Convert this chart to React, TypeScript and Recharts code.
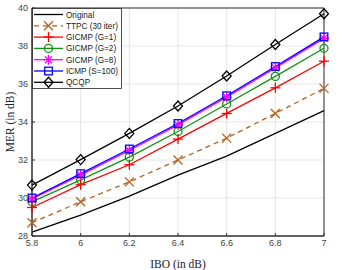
import React from "react";
import {
  LineChart,
  Line,
  XAxis,
  YAxis,
  CartesianGrid,
  ReferenceArea,
} from "recharts";

const ibo = [5.8, 6.0, 6.2, 6.4, 6.6, 6.8, 7.0];
const original = [28.2, 29.1, 30.1, 31.2, 32.2, 33.4, 34.6];
const ttpc = [28.7, 29.8, 30.85, 32.0, 33.15, 34.45, 35.77];
const gicmp1 = [29.5, 30.7, 31.75, 33.1, 34.45, 35.8, 37.2];
const gicmp2 = [29.8, 30.95, 32.15, 33.5, 34.95, 36.4, 37.88];
const gicmp8 = [29.95, 31.2, 32.5, 33.85, 35.3, 36.85, 38.4];
const icmp = [30.0, 31.28, 32.58, 33.92, 35.38, 36.92, 38.48];
const qcqp = [30.68, 32.02, 33.4, 34.84, 36.42, 38.08, 39.7];

const xTicks = [5.8, 6, 6.2, 6.4, 6.6, 6.8, 7];
const yTicks = [28, 30, 32, 34, 36, 38, 40];

const data = ibo.map((x, i) => ({
  x,
  original: original[i],
  ttpc: ttpc[i],
  g1: gicmp1[i],
  g2: gicmp2[i],
  g8: gicmp8[i],
  icmp: icmp[i],
  qcqp: qcqp[i],
}));

type Marker = "none" | "x" | "plus" | "circle" | "star" | "square" | "diamond";

const series: { key: string; name: string; color: string; marker: Marker; dash?: string }[] = [
  { key: "original", name: "Original", color: "#000000", marker: "none" },
  { key: "ttpc", name: "TTPC (30 iter)", color: "#b5601e", marker: "x", dash: "5 4" },
  { key: "g1", name: "GICMP (G=1)", color: "#ff0000", marker: "plus" },
  { key: "g2", name: "GICMP (G=2)", color: "#119311", marker: "circle" },
  { key: "g8", name: "GICMP (G=8)", color: "#ff00ff", marker: "star" },
  { key: "icmp", name: "ICMP (S=100)", color: "#0000ff", marker: "square" },
  { key: "qcqp", name: "QCQP", color: "#000000", marker: "diamond" },
];

function drawMarker(m: Marker, cx: number, cy: number, c: string, k?: string) {
  const sw = 1.3;
  switch (m) {
    case "x":
      return (
        <g key={k} stroke={c} strokeWidth={sw}>
          <line x1={cx - 4.5} y1={cy - 4.5} x2={cx + 4.5} y2={cy + 4.5} />
          <line x1={cx - 4.5} y1={cy + 4.5} x2={cx + 4.5} y2={cy - 4.5} />
        </g>
      );
    case "plus":
      return (
        <g key={k} stroke={c} strokeWidth={sw}>
          <line x1={cx - 5} y1={cy} x2={cx + 5} y2={cy} />
          <line x1={cx} y1={cy - 5} x2={cx} y2={cy + 5} />
        </g>
      );
    case "circle":
      return <circle key={k} cx={cx} cy={cy} r={4} fill="none" stroke={c} strokeWidth={sw} />;
    case "star":
      return (
        <g key={k} stroke={c} strokeWidth={sw}>
          <line x1={cx - 5} y1={cy} x2={cx + 5} y2={cy} />
          <line x1={cx} y1={cy - 5} x2={cx} y2={cy + 5} />
          <line x1={cx - 3.5} y1={cy - 3.5} x2={cx + 3.5} y2={cy + 3.5} />
          <line x1={cx - 3.5} y1={cy + 3.5} x2={cx + 3.5} y2={cy - 3.5} />
        </g>
      );
    case "square":
      return <rect key={k} x={cx - 3.8} y={cy - 3.8} width={7.6} height={7.6} fill="none" stroke={c} strokeWidth={sw} />;
    case "diamond":
      return (
        <polygon
          key={k}
          points={`${cx},${cy - 5} ${cx + 4.5},${cy} ${cx},${cy + 5} ${cx - 4.5},${cy}`}
          fill="none"
          stroke={c}
          strokeWidth={sw}
        />
      );
    default:
      return <g key={k} />;
  }
}

function makeDot(m: Marker, c: string) {
  return (props: any) => drawMarker(m, props.cx, props.cy, c, `${m}-${props.index}`);
}

function LegendBox() {
  const rowH = 11.3;
  return (
    <svg width={90} height={81} style={{ position: "absolute", left: 32, top: 8, display: "block" }}>
      <rect x={0.5} y={0.5} width={89} height={80} fill="#ffffff" stroke="#222" strokeWidth={0.8} />
      {series.map((s, i) => {
        const y = 6.5 + i * rowH;
        return (
          <g key={s.key}>
            <line x1={2} y1={y} x2={31} y2={y} stroke={s.color} strokeWidth={1.3} strokeDasharray={s.dash} />
            {drawMarker(s.marker, 16.5, y, s.color)}
            <text x={34} y={y + 3} fontSize={8.2} fill="#222" fontFamily="Liberation Sans, Arial, sans-serif">
              {s.name}
            </text>
          </g>
        );
      })}
    </svg>
  );
}

const tickStyle = { fill: "#444", fontSize: 9, fontFamily: "Liberation Sans, Arial, sans-serif" };

function YLabel(props: any) {
  const vb = props.viewBox || {};
  const cy = (vb.y ?? 8) + (vb.height ?? 228) / 2;
  return (
    <text
      x={10}
      y={cy}
      transform={`rotate(-90, 10, ${cy})`}
      textAnchor="middle"
      dominantBaseline="central"
      fontFamily="Liberation Serif, Times New Roman, serif"
      fontSize={11.5}
      fill="#222"
    >
      MER (in dB)
    </text>
  );
}

export default function App() {
  return (
    <div style={{ position: "absolute", left: 0, top: 0, width: 349, height: 270, background: "#fff" }}>
      <LineChart width={349} height={270} data={data} margin={{ top: 8, right: 25, bottom: 14, left: 8 }}>
        <CartesianGrid stroke="#dedede" strokeWidth={0.8} />
        <XAxis
          dataKey="x"
          type="number"
          domain={[5.8, 7]}
          ticks={xTicks}
          tick={tickStyle}
          tickLine={{ stroke: "#333" }}
          tickSize={-3}
          tickMargin={7}
          axisLine={{ stroke: "#333" }}
          height={20}
          label={{
            value: "IBO (in dB)",
            position: "insideBottom",
            offset: -12,
            style: { fontFamily: "Liberation Serif, Times New Roman, serif", fontSize: 11.5, fill: "#222" },
          }}
        />
        <YAxis
          type="number"
          domain={[28, 40]}
          ticks={yTicks}
          tick={tickStyle}
          tickLine={{ stroke: "#333" }}
          tickSize={-3}
          tickMargin={7}
          axisLine={{ stroke: "#333" }}
          width={24}
          label={<YLabel />}
        />
        <ReferenceArea x1={5.8} x2={7} y1={28} y2={40} fill="none" stroke="#333" strokeWidth={1} />
        {series.map((s) => (
          <Line
            key={s.key}
            dataKey={s.key}
            stroke={s.color}
            strokeWidth={1.3}
            strokeDasharray={s.dash}
            dot={s.marker === "none" ? false : makeDot(s.marker, s.color)}
            activeDot={false}
            isAnimationActive={false}
          />
        ))}
      </LineChart>
      <LegendBox />
    </div>
  );
}
